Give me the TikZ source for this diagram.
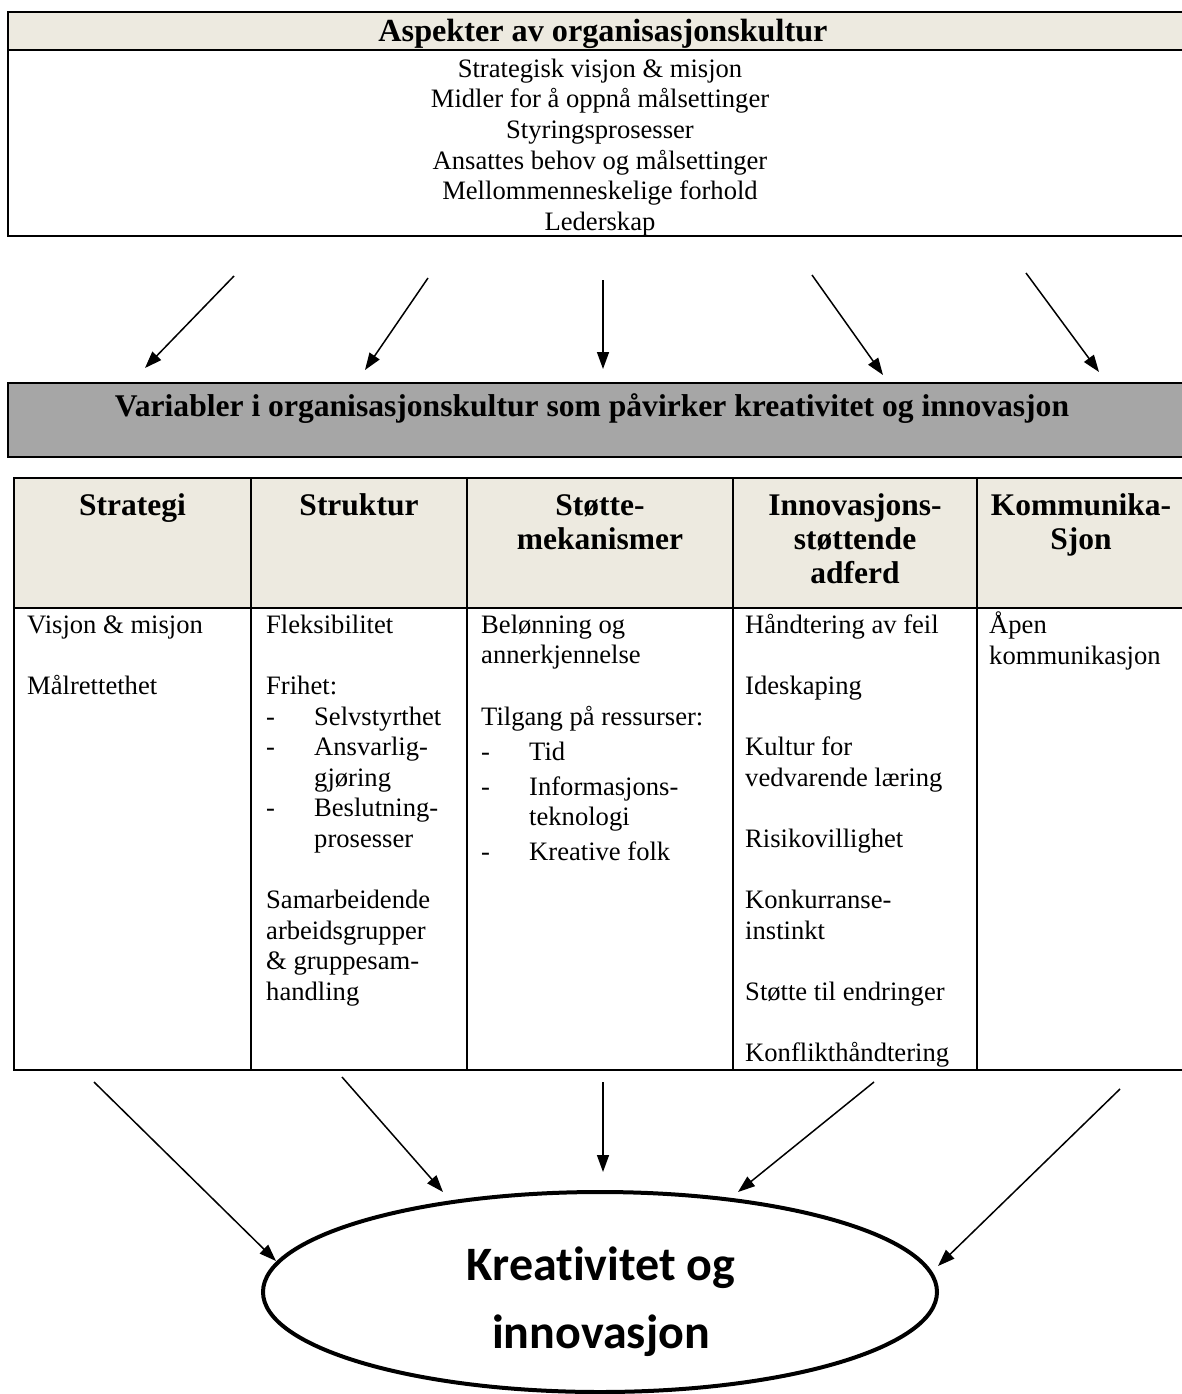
\documentclass[tikz,border=0pt]{standalone}
\usepackage{fontspec}
\setmainfont{Liberation Serif}
\newfontfamily\calib{Carlito}[Ligatures=NoCommon]
\usetikzlibrary{arrows.meta,shapes.geometric}
\definecolor{beige}{HTML}{EDEAE0}
\definecolor{greybox}{HTML}{A6A6A6}
\newcommand\itm[1]{\makebox[48pt][l]{-}#1}
\newcommand\cnt[1]{\hspace*{48pt}#1}
\begin{document}
\begin{tikzpicture}[x=1pt,y=-1pt,
  frame/.style={line width=2.6pt},
  gridline/.style={line width=2pt},
  arr/.style={line width=1.5pt,-{Triangle[length=17pt,width=12pt]}},
  bodytext/.style={font=\fontsize{26.6}{30.6}\selectfont, inner sep=0pt, align=left, anchor=north west},
  headtext/.style={font=\fontsize{31.5}{34}\selectfont\bfseries, inner sep=0pt, align=center, anchor=north},
  titletext/.style={font=\fontsize{32.2}{34}\selectfont\bfseries, inner sep=0pt, anchor=base}]
\useasboundingbox (0,0) rectangle (1182,1394);
\clip (0,0) rectangle (1182,1394);

% ---- top box
\fill[beige] (8,12) rectangle (1195,50);
\draw[frame] (1195,12) -- (8,12) -- (8,236) -- (1195,236);
\draw[frame] (8,50) -- (1195,50);
\node[titletext] (aspTitle) at (603,42) {Aspekter av organisasjonskultur};
\node[bodytext, anchor=north, align=center] (aspList) at (600,55.6)
  {\strut Strategisk visjon \& misjon\\Midler for å oppnå målsettinger\\Styringsprosesser\\Ansattes behov og målsettinger\\Mellommenneskelige forhold\\Lederskap};

% ---- grey box
\draw[frame, fill=greybox] (1195,383) -- (8,383) -- (8,457) -- (1195,457);
\node[titletext, font=\fontsize{31.6}{34}\selectfont\bfseries] (varTitle) at (592,416) {Variabler i organisasjonskultur som påvirker kreativitet og innovasjon};

% ---- table
\fill[beige] (14,478) rectangle (1195,608);
\draw[gridline] (1195,478) -- (14,478) -- (14,1070) -- (1195,1070);
\draw[gridline] (14,608) -- (1195,608);
\foreach \x in {251,467,733,977} \draw[gridline] (\x,478) -- (\x,1070);

\node[headtext] (hStrategi) at (132.5,491) {\strut Strategi};
\node[headtext] (hStruktur) at (359,491) {\strut Struktur};
\node[headtext] (hStotte) at (600,491) {\strut Støtte-\\mekanismer};
\node[headtext] (hInnov) at (855,491) {\strut Innovasjons-\\støttende\\adferd};
\node[headtext] (hKomm) at (1081,491) {\strut Kommunika-\\Sjon};

\node[bodytext] (cStrategi) at (27,611.6) {\strut Visjon \& misjon\\[30.6pt]Målrettethet};
\node[bodytext] (cStruktur) at (266,611.6) {\strut Fleksibilitet\\[30.6pt]Frihet:\\\itm{Selvstyrthet}\\\itm{Ansvarlig-}\\\cnt{gjøring}\\\itm{Beslutning-}\\\cnt{prosesser}\\[30.6pt]Samarbeidende\\arbeidsgrupper\\\& gruppesam-\\handling};
\node[bodytext] (cStotte) at (481,611.6) {\strut Belønning og\\annerkjennelse\\[30.6pt]Tilgang på ressurser:\\[4.5pt]\itm{Tid}\\[4.5pt]\itm{Informasjons-}\\\cnt{teknologi}\\[4.5pt]\itm{Kreative folk}};
\node[bodytext] (cInnov) at (745,611.6) {\strut Håndtering av feil\\[30.6pt]Ideskaping\\[30.6pt]Kultur for\\vedvarende læring\\[30.6pt]Risikovillighet\\[30.6pt]Konkurranse-\\instinkt\\[30.6pt]Støtte til endringer\\[30.6pt]Konflikthåndtering};
\node[bodytext] (cKomm) at (989,611.6) {\strut Åpen\\kommunikasjon};

% ---- top arrows
\coordinate (t1s) at (234,276); \coordinate (t1e) at (145,368);
\coordinate (t2s) at (428,278); \coordinate (t2e) at (365,370);
\coordinate (t3s) at (603,280); \coordinate (t3e) at (603,369);
\coordinate (t4s) at (812,275); \coordinate (t4e) at (883,375);
\coordinate (t5s) at (1026,273); \coordinate (t5e) at (1099,372);
\foreach \i in {1,...,5} \draw[arr] (t\i s) -- (t\i e);

% ---- ellipse
\node[draw, ellipse, line width=4pt, minimum width=674pt, minimum height=200pt, inner sep=0pt] (goal) at (600,1292) {};
\node[font=\calib\bfseries\fontsize{48}{68}\selectfont, align=center, inner sep=0pt, anchor=base] (goalText) at (601,1348) {Kreativitet og\\innovasjon};

% ---- bottom arrows
\coordinate (b1s) at (94,1082); \coordinate (b1e) at (276,1261);
\coordinate (b2s) at (342,1077); \coordinate (b2e) at (443,1192);
\coordinate (b3s) at (603,1082); \coordinate (b3e) at (603,1172);
\coordinate (b4s) at (874,1082); \coordinate (b4e) at (738,1192);
\coordinate (b5s) at (1120,1089); \coordinate (b5e) at (938,1266);
\foreach \i in {1,...,5} \draw[arr] (b\i s) -- (b\i e);
\end{tikzpicture}
\end{document}
